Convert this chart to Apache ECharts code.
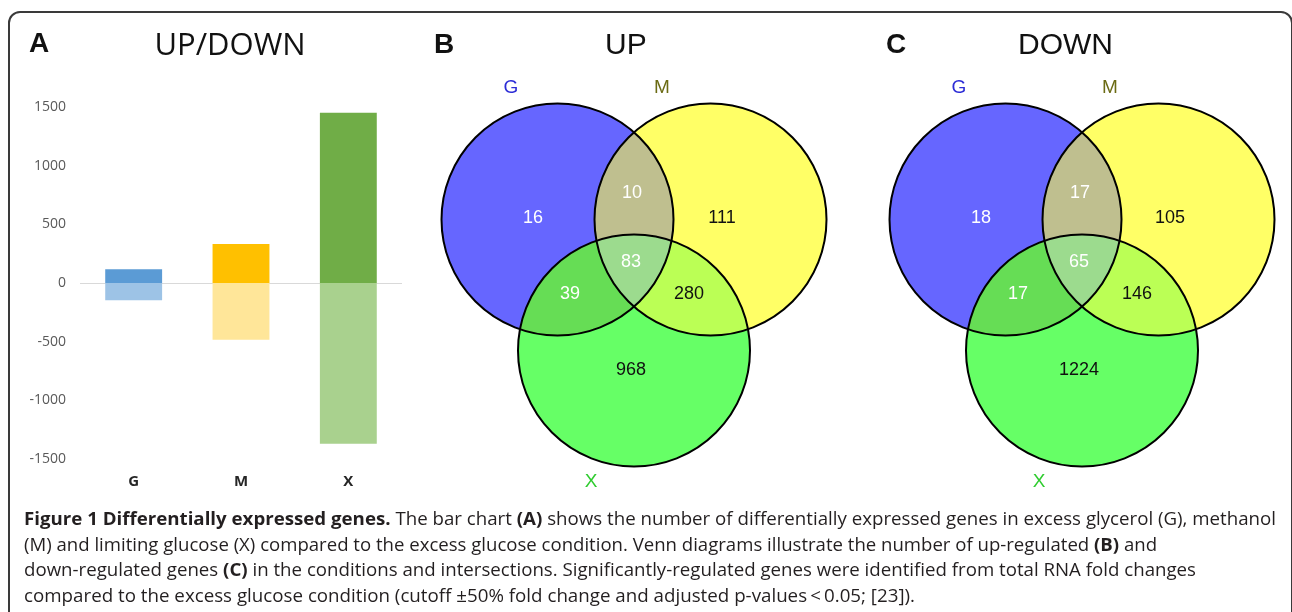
<!DOCTYPE html>
<html><head><meta charset="utf-8">
<script src="https://cdn.jsdelivr.net/npm/echarts@6/dist/echarts.min.js"></script>
<style>html,body{margin:0;padding:0;background:#fff}#c{width:1292px;height:612px}</style>
</head><body><div id="c"></div>
<script>
// ---------------- DATA ----------------
const categories = ['G', 'M', 'X'];
const upCounts = [117, 333, 1452];
const downCounts = [-148, -484, -1370];
const yTickMin = -1500, yTickMax = 1500, yTickStep = 500;

const vennSets = ['G', 'M', 'X'];
const vennRegions = ['G', 'M', 'X', 'GM', 'GX', 'MX', 'GMX'];
const upRegionCounts = [16, 111, 968, 10, 39, 280, 83];
const downRegionCounts = [18, 105, 1224, 17, 17, 146, 65];

// ---------------- LAYOUT / STYLE ----------------
const UP_COLORS = ['#5b9bd5', '#ffc000', '#70ad47'];
const DOWN_COLORS = ['#9dc3e6', '#ffe699', '#a9d18e'];
const CIRCLES = { G: [137.5, 159.5], M: [290.5, 159.5], X: [214, 290.5] };
const RADIUS = 116;
const LABEL_POS = { G: [113, 158], M: [302, 158], X: [211, 310], GM: [212, 133], GX: [150, 234], MX: [269, 234], GMX: [211, 202] };
const SET_LABEL_POS = { G: [91, 28], M: [242, 28], X: [171, 422] };
const SET_LABEL_COLOR = { G: '#2c2cd6', M: '#6b6b14', X: '#2fcc2f' };
const FILL = { G: '#6666ff', M: '#ffff66', X: '#66ff66', GM: '#bfbf8f', GX: '#66dd55', MX: '#bbff55', GMX: '#9cdb8e' };
const TEXT_FILL = { G: '#fff', GM: '#fff', GX: '#fff', GMX: '#fff', M: '#111', MX: '#111', X: '#111' };
const VENN_W = 424, VENN_H = 440;

const chart = echarts.init(document.getElementById('c'), null, { renderer: 'canvas' });

function regionShape(name, api) {
  const sets = name.split('');
  const cs = sets.map(s => api.coord(CIRCLES[s]));
  const r = api.size([RADIUS, 0])[0];
  if (sets.length === 1) {
    return { type: 'circle', shape: { cx: cs[0][0], cy: cs[0][1], r: r }, style: { fill: FILL[name] } };
  }
  const pts = [];
  const N = 720;
  for (let i = 0; i < cs.length; i++) {
    for (let k = 0; k < N; k++) {
      const a = k / N * Math.PI * 2;
      const p = [cs[i][0] + r * Math.cos(a), cs[i][1] + r * Math.sin(a)];
      let ok = true;
      for (let j = 0; j < cs.length; j++) {
        if (j === i) continue;
        const dx = p[0] - cs[j][0], dy = p[1] - cs[j][1];
        if (dx * dx + dy * dy > r * r + 0.5) { ok = false; break; }
      }
      if (ok) pts.push(p);
    }
  }
  let mx = 0, my = 0;
  pts.forEach(p => { mx += p[0]; my += p[1]; });
  mx /= pts.length; my /= pts.length;
  pts.sort((a, b) => Math.atan2(a[1] - my, a[0] - mx) - Math.atan2(b[1] - my, b[0] - mx));
  return { type: 'polygon', shape: { points: pts }, style: { fill: FILL[name] } };
}

function vennSeries(axisIndex, counts) {
  return [
    {
      type: 'custom', coordinateSystem: 'cartesian2d', xAxisIndex: axisIndex, yAxisIndex: axisIndex, z: 2, silent: true,
      data: vennRegions.map((r, i) => ({ name: r, value: [LABEL_POS[r][0], LABEL_POS[r][1], counts[i]] })),
      renderItem: (params, api) => regionShape(vennRegions[params.dataIndex], api)
    },
    {
      type: 'custom', coordinateSystem: 'cartesian2d', xAxisIndex: axisIndex, yAxisIndex: axisIndex, z: 3, silent: true,
      data: vennSets.map(s => ({ name: s, value: CIRCLES[s] })),
      renderItem: (params, api) => {
        const c = api.coord([api.value(0), api.value(1)]);
        const r = api.size([RADIUS, 0])[0];
        return { type: 'circle', shape: { cx: c[0], cy: c[1], r: r }, style: { fill: 'none', stroke: '#000', lineWidth: 2 } };
      }
    },
    {
      type: 'custom', coordinateSystem: 'cartesian2d', xAxisIndex: axisIndex, yAxisIndex: axisIndex, z: 4, silent: true,
      data: vennRegions.map((r, i) => ({ name: r, value: [LABEL_POS[r][0], LABEL_POS[r][1], counts[i]] })),
      renderItem: (params, api) => {
        const name = vennRegions[params.dataIndex];
        const c = api.coord([api.value(0), api.value(1)]);
        return { type: 'text', x: c[0], y: c[1], style: { text: String(api.value(2)), fill: TEXT_FILL[name], font: '18px "Liberation Sans", Arial, sans-serif', align: 'center', verticalAlign: 'middle' } };
      }
    },
    {
      type: 'custom', coordinateSystem: 'cartesian2d', xAxisIndex: axisIndex, yAxisIndex: axisIndex, z: 4, silent: true,
      data: vennSets.map(s => ({ name: s, value: SET_LABEL_POS[s] })),
      renderItem: (params, api) => {
        const name = vennSets[params.dataIndex];
        const c = api.coord([api.value(0), api.value(1)]);
        return { type: 'text', x: c[0], y: c[1], style: { text: name, fill: SET_LABEL_COLOR[name], font: '19px "Liberation Sans", Arial, sans-serif', align: 'center', verticalAlign: 'middle' } };
      }
    }
  ];
}

function vennAxes() {
  return {
    x: { type: 'value', min: 0, max: VENN_W, show: false },
    y: { type: 'value', min: 0, max: VENN_H, inverse: true, show: false }
  };
}
const vB = vennAxes(), vC = vennAxes();

// caption
const captionLines = [
  [['Figure 1 Differentially expressed genes.', true], [' The bar chart ', false], ['(A)', true], [' shows the number of differentially expressed genes in excess glycerol (G), methanol', false]],
  [['(M) and limiting glucose (X) compared to the excess glucose condition. Venn diagrams illustrate the number of up-regulated ', false], ['(B)', true], [' and', false]],
  [['down-regulated genes ', false], ['(C)', true], [' in the conditions and intersections. Significantly-regulated genes were identified from total RNA fold changes', false]],
  [['compared to the excess glucose condition (cutoff \u00b150% fold change and adjusted p-values\u2009<\u20090.05; [23]).', false]]
];
const captionWidths = [1252, 1133, 1172, 891];
const captionY = [520, 546, 571, 597];
const CAP_FONT_SIZE = 18;
const CAP_FAMILY = '"Open Sans", "Noto Sans", sans-serif';
const mctx = document.createElement('canvas').getContext('2d');
const captionGraphics = captionLines.map((segs, li) => {
  let w = 0, text = '';
  segs.forEach(([t, b]) => {
    mctx.font = (b ? 'bold ' : '') + CAP_FONT_SIZE + 'px ' + CAP_FAMILY;
    w += mctx.measureText(t).width;
    text += b ? '{b|' + t + '}' : '{n|' + t + '}';
  });
  return {
    type: 'text', x: 24, y: captionY[li], scaleX: captionWidths[li] / w, originX: 0,
    style: {
      text: text, verticalAlign: 'middle', align: 'left',
      rich: {
        b: { fontFamily: CAP_FAMILY, fontSize: CAP_FONT_SIZE, fontWeight: 'bold', fill: '#231f20' },
        n: { fontFamily: CAP_FAMILY, fontSize: CAP_FONT_SIZE, fill: '#231f20' }
      }
    }
  };
});

const titleFont = '"Liberation Sans", Arial, sans-serif';
const option = {
  animation: false,
  backgroundColor: '#fff',
  grid: [
    { left: 80, top: 107, width: 322, height: 352 },
    { left: 420, top: 60, width: VENN_W, height: VENN_H },
    { left: 868, top: 60, width: VENN_W, height: VENN_H }
  ],
  xAxis: [
    {
      type: 'category', gridIndex: 0, data: categories,
      axisLine: { show: false }, axisTick: { show: false },
      axisLabel: { color: '#262626', fontWeight: 'bold', fontSize: 15, margin: 15, fontFamily: '"Open Sans", sans-serif' }
    },
    Object.assign({ gridIndex: 1 }, vB.x),
    Object.assign({ gridIndex: 2 }, vC.x)
  ],
  yAxis: [
    {
      type: 'value', gridIndex: 0, min: yTickMin, max: yTickMax, interval: yTickStep,
      axisLine: { show: false }, axisTick: { show: false },
      axisLabel: { color: '#595959', fontSize: 14, margin: 14, fontFamily: '"Open Sans", sans-serif', formatter: v => String(v) },
      splitLine: { show: true, lineStyle: { width: 1, color: ['transparent', 'transparent', 'transparent', '#d9d9d9', 'transparent', 'transparent', 'transparent'] } }
    },
    Object.assign({ gridIndex: 1 }, vB.y),
    Object.assign({ gridIndex: 2 }, vC.y)
  ],
  series: [
    {
      type: 'bar', name: 'Up', stack: 'genes', xAxisIndex: 0, yAxisIndex: 0, barWidth: '53%',
      data: upCounts.map((v, i) => ({ value: v, itemStyle: { color: UP_COLORS[i] } }))
    },
    {
      type: 'bar', name: 'Down', stack: 'genes', xAxisIndex: 0, yAxisIndex: 0, barWidth: '53%',
      data: downCounts.map((v, i) => ({ value: v, itemStyle: { color: DOWN_COLORS[i] } }))
    }
  ].concat(vennSeries(1, upRegionCounts), vennSeries(2, downRegionCounts)),
  graphic: [
    { type: 'rect', shape: { x: 9, y: 12, width: 1283, height: 720, r: [11, 11, 0, 0] }, style: { fill: 'none', stroke: '#3a3a3a', lineWidth: 2 }, z: 10, silent: true },
    { type: 'text', x: 29, y: 44, style: { text: 'A', font: 'bold 28px ' + titleFont, fill: '#111', verticalAlign: 'middle' } },
    { type: 'text', x: 230, y: 46, style: { text: 'UP/DOWN', font: '31px "Open Sans", sans-serif', fill: '#111', align: 'center', verticalAlign: 'middle' } },
    { type: 'text', x: 434, y: 45, style: { text: 'B', font: 'bold 28px ' + titleFont, fill: '#111', verticalAlign: 'middle' } },
    { type: 'text', x: 605, y: 46, style: { text: 'UP', font: '30px ' + titleFont, fill: '#111', verticalAlign: 'middle' } },
    { type: 'text', x: 886, y: 45, style: { text: 'C', font: 'bold 28px ' + titleFont, fill: '#111', verticalAlign: 'middle' } },
    { type: 'text', x: 1018, y: 46, style: { text: 'DOWN', font: '30px ' + titleFont, fill: '#111', verticalAlign: 'middle' } }
  ].concat(captionGraphics)
};
chart.setOption(option);
</script>
</body></html>
